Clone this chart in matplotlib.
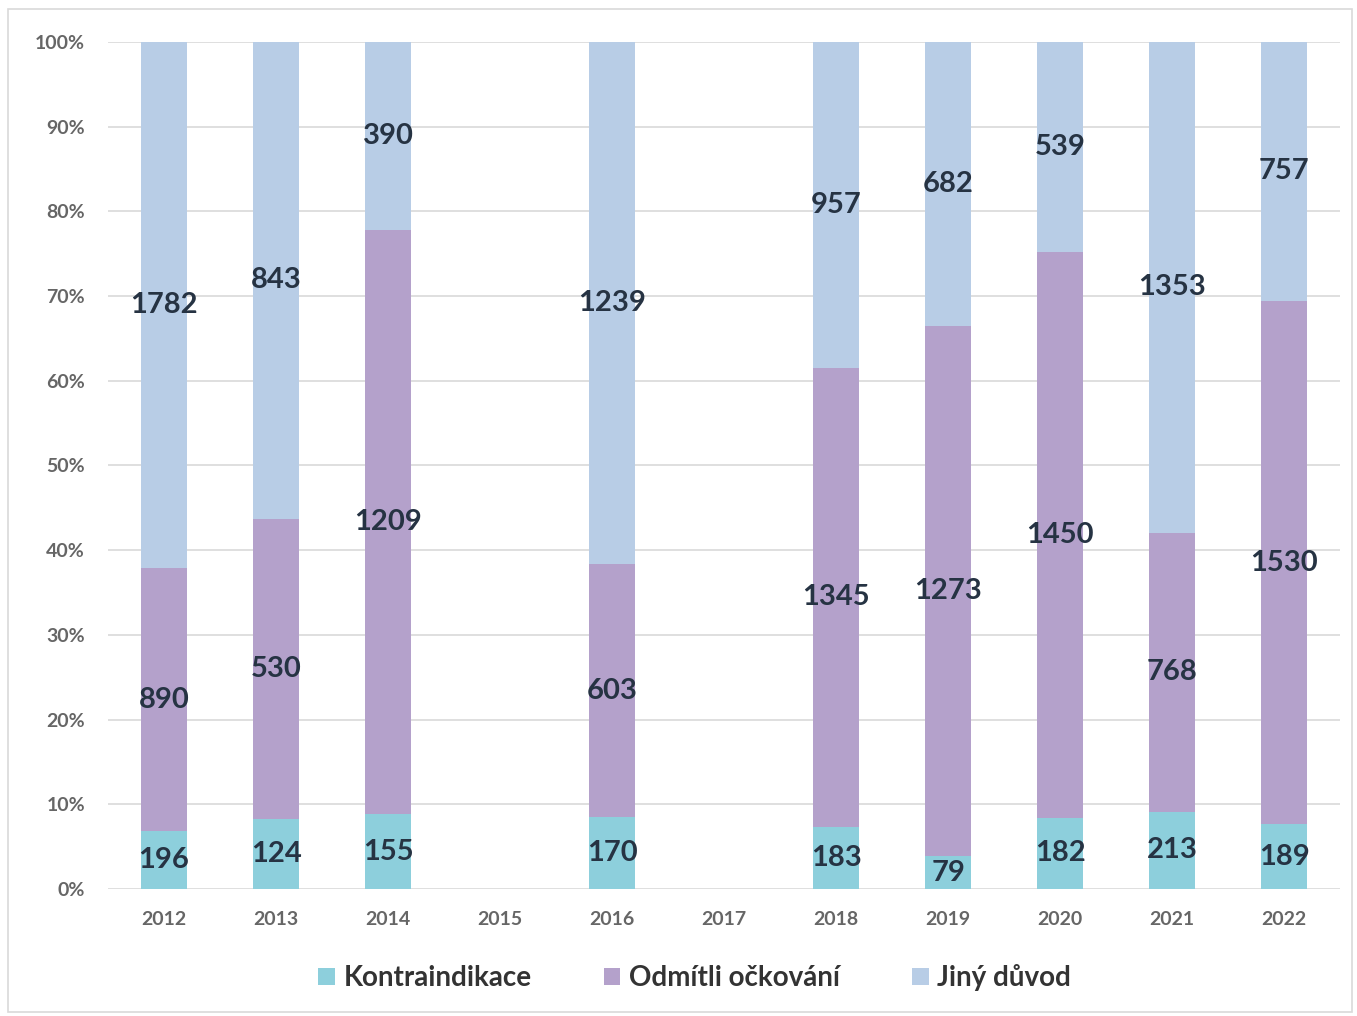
import numpy as np
import matplotlib.pyplot as plt
from matplotlib.patches import Rectangle

plt.rcParams['font.family'] = ['Lato', 'DejaVu Sans']

years = ['2012', '2013', '2014', '2015', '2016', '2017', '2018', '2019', '2020', '2021', '2022']
kontraindikace = [196, 124, 155, 0, 170, 0, 183, 79, 182, 213, 189]
odmitli = [890, 530, 1209, 0, 603, 0, 1345, 1273, 1450, 768, 1530]
jiny = [1782, 843, 390, 0, 1239, 0, 957, 682, 539, 1353, 757]

series = [
    ('Kontraindikace', kontraindikace, '#8dcfdc'),
    ('Odmítli očkování', odmitli, '#b4a1cb'),
    ('Jiný důvod', jiny, '#b8cde6'),
]

fig = plt.figure(figsize=(13.57, 10.16), dpi=100)
ax = fig.add_axes([0.0796, 0.125, 0.908, 0.8337])
fig.patches.append(Rectangle((0.006, 0.004), 0.99, 0.987, transform=fig.transFigure,
                             fill=False, edgecolor='#d9d9d9', linewidth=1.2))

x = np.arange(len(years))
totals = np.array(kontraindikace) + np.array(odmitli) + np.array(jiny)
bottom = np.zeros(len(years))
for name, vals, color in series:
    vals = np.array(vals, dtype=float)
    pct = np.where(totals > 0, vals / np.where(totals > 0, totals, 1) * 100, 0)
    ax.bar(x, pct, 0.41, bottom=bottom, color=color, label=name, zorder=2)
    for i in range(len(years)):
        if totals[i] > 0:
            ax.text(x[i], bottom[i] + pct[i] / 2, str(int(vals[i])), ha='center', va='center',
                    fontsize=21, fontweight='bold', color='#263343', zorder=3)
    bottom += pct

ax.set_xlim(-0.5, 10.5)
ax.set_ylim(0, 100)
ax.set_yticks(np.arange(0, 101, 10))
ax.set_yticklabels([f'{v}%' for v in range(0, 101, 10)], fontweight='bold')
ax.set_xticks(x)
ax.set_xticklabels(years, fontweight='bold')
ax.tick_params(axis='both', length=0, labelsize=14, colors='#666666')
ax.tick_params(axis='x', pad=16)
ax.tick_params(axis='y', pad=16.5)
ax.grid(axis='y', color='#d9d9d9', linewidth=1.2, zorder=0)
for s in ax.spines.values():
    s.set_visible(False)

ax.legend(loc='center', bbox_to_anchor=(0.476, -0.105), ncol=3, frameon=False,
          prop={'size': 20, 'weight': 'bold'}, handlelength=0.6, handleheight=0.6,
          handletextpad=0.3, columnspacing=2.6, labelcolor='#333333')

fig.savefig('out.png', dpi=100)
